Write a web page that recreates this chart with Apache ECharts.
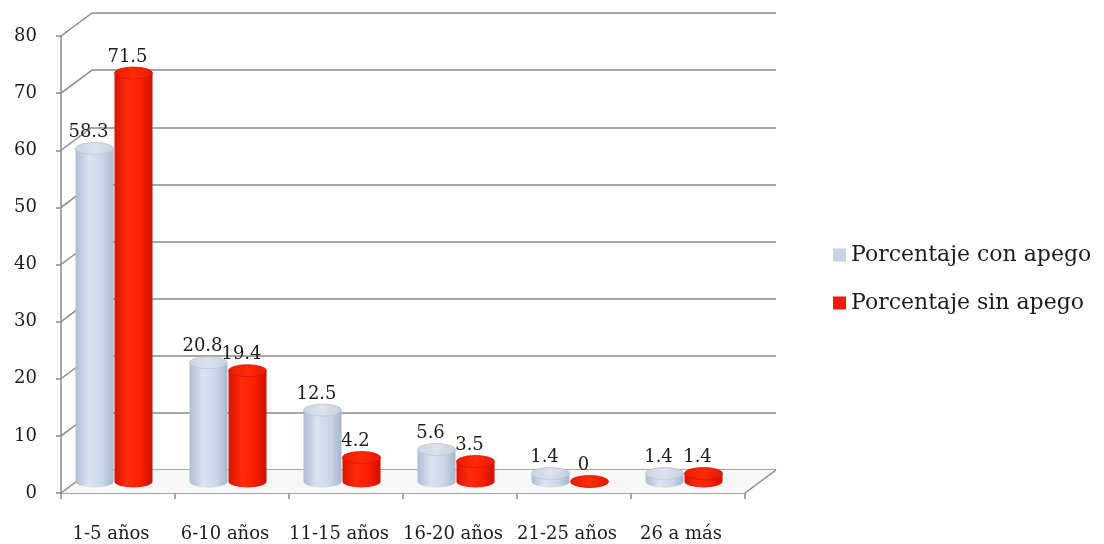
<!DOCTYPE html>
<html>
<head>
<meta charset="utf-8">
<script src="https://cdn.jsdelivr.net/npm/echarts@6/dist/echarts.min.js"></script>
<style>
  html, body { margin: 0; padding: 0; background: #ffffff; }
  #chart { width: 1104px; height: 544px; }
</style>
</head>
<body>
<div id="chart"></div>
<script>
// Years of service and percentage of workers with / without attachment
const categories = ['1-5 años', '6-10 años', '11-15 años', '16-20 años', '21-25 años', '26 a más'];
const conApego = [58.3, 20.8, 12.5, 5.6, 1.4, 1.4];
const sinApego = [71.5, 19.4, 4.2, 3.5, 0, 1.4];
const seriesNames = ['Porcentaje con apego', 'Porcentaje sin apego'];
const yMin = 0, yMax = 80, yStep = 10;

// 3D look: depth offset of the back wall, and of the bar row (half depth)
const WALL_DX = 31, WALL_DY = -23;
const BAR_DX = -4, BAR_DY = -11.5;
const BAR_W = 38, CAP_RY = 6;

const FONT = 'DejaVu Serif';
const TEXT = '#1c1c1c';
const LINE = '#8a8a8a';

const palettes = [
  { // light steel blue cylinders
    legend: '#c8d3e3',
    body: [[0, '#adbdd4'], [0.35, '#dae4f1'], [0.7, '#cad7e9'], [1, '#a6b6ce']],
    cap: [[0, '#cbd4e0'], [0.5, '#dde3ec'], [1, '#c6d0de']],
    capStroke: '#b6c2d3'
  },
  { // red cylinders
    legend: '#f01c10',
    body: [[0, '#d81400'], [0.35, '#ff2c0c'], [0.7, '#fa1e00'], [1, '#cc1000']],
    cap: [[0, '#ee1a00'], [0.5, '#ff2a08'], [1, '#e81800']],
    capStroke: '#d41400'
  }
];

function grad(stops) {
  return {
    type: 'linear', x: 0, y: 0, x2: 1, y2: 0,
    colorStops: stops.map(s => ({ offset: s[0], color: s[1] }))
  };
}

function ellipsePath(cx, cy, rx, ry) {
  return `M ${cx - rx} ${cy} A ${rx} ${ry} 0 1 0 ${cx + rx} ${cy} A ${rx} ${ry} 0 1 0 ${cx - rx} ${cy} Z`;
}

function cylinderRenderer(side, pal) {
  return function (params, api) {
    const idx = api.value(0);
    const v = api.value(1);
    const base = api.coord([idx, 0]);
    const top = api.coord([idx, v]);
    const cx = base[0] + BAR_DX + side * (BAR_W / 2 + 0.5);
    const yb = base[1] + BAR_DY;
    const yt = top[1] + BAR_DY;
    const rx = BAR_W / 2;
    const x1 = cx - rx, x2 = cx + rx;
    const body = `M ${x1} ${yt} L ${x1} ${yb} A ${rx} ${CAP_RY} 0 0 0 ${x2} ${yb} L ${x2} ${yt} Z`;
    return {
      type: 'group',
      children: [
        { type: 'path', shape: { pathData: body }, style: { fill: grad(pal.body) } },
        {
          type: 'path', shape: { pathData: ellipsePath(cx, yt, rx, CAP_RY) },
          style: { fill: grad(pal.cap), stroke: pal.capStroke, lineWidth: 0.8 }
        },
        {
          type: 'text',
          x: cx - 6, y: yt - 16,
          style: {
            text: String(v), fill: TEXT, font: `18px "${FONT}"`,
            align: 'center', verticalAlign: 'middle'
          }
        }
      ]
    };
  };
}

// Floor and left side wall of the 3D box
function frameRenderer(params, api) {
  const c0 = api.coord([0, yMin]);
  const band = api.size([1, 0])[0];
  const xL = c0[0] - band / 2;
  const xR = xL + band * categories.length;
  const y0 = c0[1];
  const children = [
    {
      type: 'polygon',
      shape: { points: [[xL, y0], [xR, y0], [xR + WALL_DX, y0 + WALL_DY], [xL + WALL_DX, y0 + WALL_DY]] },
      style: { fill: '#f7f7f7' }
    },
    {
      type: 'line',
      shape: { x1: xR, y1: y0, x2: xR + WALL_DX, y2: y0 + WALL_DY },
      style: { stroke: LINE, lineWidth: 1.5 }
    }
  ];
  for (let t = yMin; t <= yMax; t += yStep) {
    const p = api.coord([0, t]);
    children.push({
      type: 'line',
      shape: { x1: xL, y1: p[1], x2: xL + WALL_DX, y2: p[1] + WALL_DY },
      style: { stroke: LINE, lineWidth: 1.5 }
    });
  }
  return { type: 'group', children };
}

const chart = echarts.init(document.getElementById('chart'), null, { renderer: 'canvas' });

chart.setOption({
  animation: false,
  backgroundColor: '#ffffff',
  textStyle: { fontFamily: FONT, color: TEXT },
  grid: [
    { left: 61, right: 359, top: 36, bottom: 51 },  // front plane
    { left: 92, right: 328, top: 13, bottom: 74 }   // back wall
  ],
  legend: {
    data: seriesNames,
    orient: 'vertical',
    left: 828, top: 237,
    icon: 'rect',
    itemWidth: 13, itemHeight: 13,
    itemGap: 22,
    textStyle: { fontFamily: FONT, fontSize: 22, color: TEXT, lineHeight: 26 }
  },
  xAxis: [
    {
      type: 'category', gridIndex: 0, data: categories,
      axisLine: { lineStyle: { color: LINE, width: 1.5 } },
      axisTick: { show: true, length: 6, lineStyle: { color: LINE, width: 1.5 } },
      axisLabel: {
        color: TEXT, fontFamily: FONT, fontSize: 18, margin: 32,
        padding: [0, 14, 0, 0], interval: 0
      }
    },
    {
      type: 'category', gridIndex: 1, data: categories,
      axisLine: { show: false }, axisTick: { show: false }, axisLabel: { show: false }
    }
  ],
  yAxis: [
    {
      type: 'value', gridIndex: 0, min: yMin, max: yMax, interval: yStep,
      axisLine: { show: true, lineStyle: { color: LINE, width: 1.5 } },
      axisTick: { show: true, length: 5, lineStyle: { color: LINE, width: 1.5 } },
      splitLine: { show: false },
      axisLabel: {
        color: TEXT, fontFamily: FONT, fontSize: 18, margin: 24,
        padding: [8, 0, 0, 0]
      }
    },
    {
      type: 'value', gridIndex: 1, min: yMin, max: yMax, interval: yStep,
      axisLine: { show: false }, axisTick: { show: false }, axisLabel: { show: false },
      splitLine: { show: true, lineStyle: { color: LINE, width: 1.5 } }
    }
  ],
  series: [
    {
      type: 'custom', name: 'frame', xAxisIndex: 0, yAxisIndex: 0,
      data: [[0, 0]], renderItem: frameRenderer, silent: true, clip: false, z: 1
    },
    {
      type: 'custom', name: seriesNames[0], xAxisIndex: 0, yAxisIndex: 0,
      data: conApego.map((v, i) => [i, v]),
      itemStyle: { color: palettes[0].legend },
      renderItem: cylinderRenderer(-1, palettes[0]), clip: false, z: 3
    },
    {
      type: 'custom', name: seriesNames[1], xAxisIndex: 0, yAxisIndex: 0,
      data: sinApego.map((v, i) => [i, v]),
      itemStyle: { color: palettes[1].legend },
      renderItem: cylinderRenderer(1, palettes[1]), clip: false, z: 3
    }
  ]
});
</script>
</body>
</html>
